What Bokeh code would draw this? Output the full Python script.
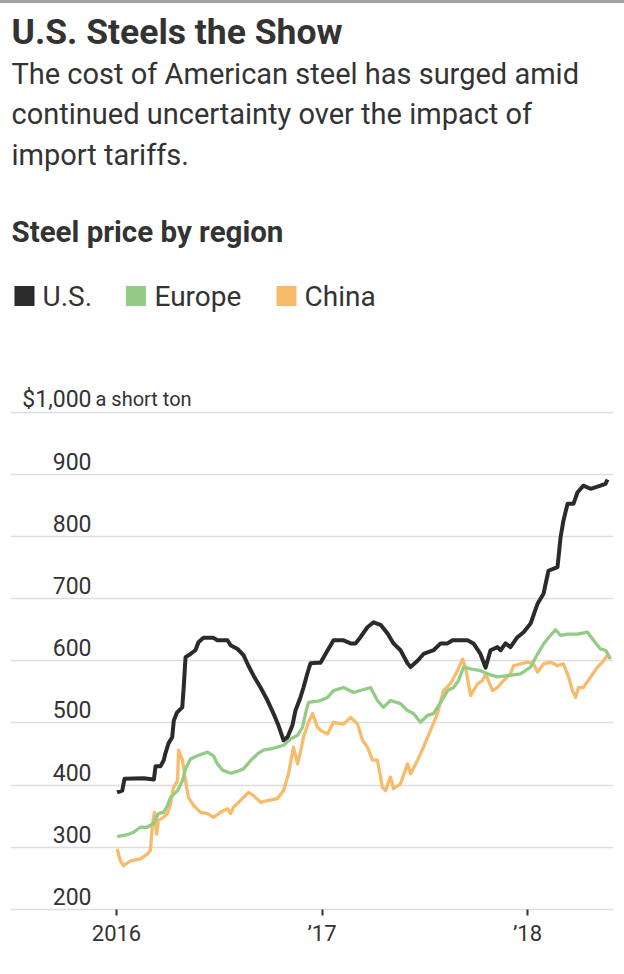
from bokeh.plotting import figure
from bokeh.layouts import column
from bokeh.models import Range1d, FixedTicker, Grid, Label, Div
from bokeh.core.properties import value
from bokeh.embed import file_html
from bokeh.resources import INLINE

# ---------------- data ----------------
us_t = [2016.003, 2016.028, 2016.039, 2016.131, 2016.182, 2016.190, 2016.214, 2016.230, 2016.238, 2016.253,
        2016.271, 2016.279, 2016.295, 2016.320, 2016.327, 2016.336, 2016.360, 2016.384, 2016.399, 2016.423,
        2016.472, 2016.491, 2016.540, 2016.555, 2016.589, 2016.618, 2016.642, 2016.667, 2016.701, 2016.735,
        2016.764, 2016.788, 2016.813, 2016.832, 2016.856, 2016.871, 2016.895, 2016.910, 2016.929, 2016.944,
        2016.978, 2016.993, 2017.017, 2017.056, 2017.105, 2017.139, 2017.163, 2017.187, 2017.221, 2017.251,
        2017.285, 2017.319, 2017.348, 2017.382, 2017.416, 2017.431, 2017.465, 2017.494, 2017.543, 2017.577,
        2017.611, 2017.635, 2017.708, 2017.737, 2017.771, 2017.796, 2017.820, 2017.854, 2017.869, 2017.893,
        2017.917, 2017.951, 2017.981, 2018.015, 2018.049, 2018.078, 2018.102, 2018.146, 2018.161, 2018.175,
        2018.195, 2018.224, 2018.243, 2018.272, 2018.307, 2018.355, 2018.380, 2018.389]
us_v = [388, 391, 410, 411, 409, 430, 430, 440, 451, 467,
        477, 504, 517, 525, 557, 606, 611, 617, 630, 637,
        637, 633, 633, 625, 619, 609, 592, 576, 557, 536,
        515, 496, 472, 477, 496, 520, 541, 557, 580, 596,
        597, 597, 611, 633, 633, 628, 628, 638, 654, 662,
        658, 644, 628, 617, 596, 590, 600, 611, 617, 628,
        628, 633, 633, 628, 611, 589, 617, 622, 617, 628,
        622, 638, 646, 660, 692, 708, 745, 751, 799, 826,
        853, 853, 871, 882, 877, 882, 885, 892]

eu_t = [2016.003, 2016.052, 2016.083, 2016.117, 2016.149, 2016.180, 2016.204, 2016.229, 2016.248, 2016.263,
        2016.297, 2016.321, 2016.336, 2016.360, 2016.394, 2016.443, 2016.472, 2016.491, 2016.516, 2016.555,
        2016.589, 2016.618, 2016.652, 2016.686, 2016.715, 2016.749, 2016.783, 2016.813, 2016.847, 2016.881,
        2016.905, 2016.920, 2016.934, 2016.978, 2016.993, 2017.027, 2017.056, 2017.105, 2017.153, 2017.236,
        2017.270, 2017.299, 2017.333, 2017.382, 2017.416, 2017.445, 2017.479, 2017.513, 2017.543, 2017.577,
        2017.611, 2017.640, 2017.664, 2017.689, 2017.723, 2017.771, 2017.805, 2017.854, 2017.903, 2017.966,
        2018.015, 2018.049, 2018.078, 2018.112, 2018.136, 2018.161, 2018.195, 2018.243, 2018.292, 2018.321,
        2018.355, 2018.380, 2018.404]
eu_v = [317, 320, 324, 332, 332, 338, 354, 356, 367, 380,
        391, 407, 426, 442, 447, 453, 447, 434, 424, 419,
        422, 426, 439, 450, 456, 458, 461, 464, 474, 480,
        493, 515, 533, 535, 536, 541, 552, 557, 549, 557,
        536, 525, 536, 531, 520, 515, 501, 512, 515, 533,
        552, 557, 568, 590, 587, 584, 579, 574, 576, 579,
        590, 611, 627, 641, 650, 641, 643, 643, 646, 633,
        619, 617, 603]

cn_t = [2016.003, 2016.019, 2016.034, 2016.068, 2016.117, 2016.151, 2016.165, 2016.175, 2016.185, 2016.195,
        2016.204, 2016.229, 2016.248, 2016.263, 2016.277, 2016.297, 2016.302, 2016.321, 2016.336, 2016.350,
        2016.375, 2016.409, 2016.443, 2016.472, 2016.506, 2016.540, 2016.555, 2016.569, 2016.603, 2016.642,
        2016.667, 2016.701, 2016.735, 2016.783, 2016.813, 2016.837, 2016.861, 2016.881, 2016.895, 2016.910,
        2016.934, 2016.954, 2016.978, 2016.993, 2017.027, 2017.056, 2017.105, 2017.139, 2017.173, 2017.197,
        2017.221, 2017.246, 2017.270, 2017.294, 2017.309, 2017.333, 2017.348, 2017.382, 2017.416, 2017.431,
        2017.465, 2017.494, 2017.528, 2017.562, 2017.591, 2017.625, 2017.659, 2017.684, 2017.698, 2017.723,
        2017.757, 2017.781, 2017.796, 2017.830, 2017.854, 2017.883, 2017.917, 2017.932, 2017.966, 2018.000,
        2018.029, 2018.049, 2018.078, 2018.112, 2018.146, 2018.175, 2018.200, 2018.219, 2018.234, 2018.248,
        2018.272, 2018.307, 2018.341, 2018.365, 2018.389, 2018.404]
cn_v = [297, 278, 270, 278, 281, 289, 295, 337, 356, 321,
        343, 348, 354, 370, 396, 407, 456, 440, 407, 380,
        367, 356, 354, 348, 356, 362, 354, 364, 375, 388,
        383, 372, 375, 378, 391, 418, 461, 434, 453, 477,
        501, 515, 493, 488, 482, 501, 498, 509, 498, 472,
        461, 440, 440, 396, 391, 413, 394, 402, 434, 418,
        440, 461, 488, 515, 552, 563, 584, 603, 590, 544,
        563, 568, 579, 552, 557, 568, 579, 592, 595, 598,
        595, 582, 595, 598, 592, 595, 574, 552, 541, 557,
        557, 574, 590, 598, 609, 603]

series_names = ["U.S.", "Europe", "China"]
y_ticks = [200, 300, 400, 500, 600, 700, 800, 900]
y_tick_labels = ["200", "300", "400", "500", "600", "700", "800", "900"]
top_tick = 1000
top_tick_label = "$1,000"
unit_label = "a short ton"
x_ticks = [2016, 2017, 2018]
x_tick_labels = ["2016", "\u201917", "\u201918"]

title_text = "U.S. Steels the Show"
subtitle_lines = ["The cost of American steel has surged amid",
                  "continued uncertainty over the impact of",
                  "import tariffs."]
header_text = "Steel price by region"

# ---------------- styling / layout ----------------
FONT = "Roboto"
TXT = "#333333"
C_US, C_EU, C_CN = "#2b2b2b", "#92cc86", "#f8bb6b"
GRID_C = "#dddddd"
BAR_C = "#a3a3a3"

W = 624
BAR_H = 3                                # grey rule at the top of the page
H = 967                                  # main figure height (below the rule)
BORDER_L, BORDER_R = 10, 11
FRAME_W = W - BORDER_L - BORDER_R        # 603
FRAME_BOTTOM_PX = 915                    # page y of the frame bottom (end of ticks)
FRAME_H = FRAME_BOTTOM_PX - BAR_H
BORDER_B = H - FRAME_H
PX_PER_YEAR = 205.5
PX_PER_UNIT = 0.621
X2016_PX = 116.0
Y200_PX = 908.7

x_start = 2016 - (X2016_PX - BORDER_L) / PX_PER_YEAR
x_end = x_start + FRAME_W / PX_PER_YEAR
y_start = 200 - (FRAME_BOTTOM_PX - Y200_PX) / PX_PER_UNIT
y_end = y_start + FRAME_H / PX_PER_UNIT
TICK_LEN = FRAME_BOTTOM_PX - Y200_PX


def fx(px):
    """page x pixel -> data x"""
    return x_start + (px - BORDER_L) / PX_PER_YEAR


def fy(py):
    """page y pixel -> data y"""
    return y_end - (py - BAR_H) / PX_PER_UNIT


bar = Div(text="", width=W, height=BAR_H, margin=(0, 0, 0, 0),
          styles={"background-color": BAR_C, "width": f"{W}px", "height": f"{BAR_H}px"})

p = figure(width=W, height=H, output_backend="svg", toolbar_location=None,
           x_range=Range1d(x_start, x_end), y_range=Range1d(y_start, y_end),
           y_axis_location=None, min_border_left=BORDER_L, min_border_right=BORDER_R,
           min_border_top=0, min_border_bottom=BORDER_B)
p.outline_line_color = None
p.background_fill_color = "white"
p.border_fill_color = "white"
p.grid.visible = False

grid = Grid(dimension=1, ticker=FixedTicker(ticks=y_ticks + [top_tick]),
            grid_line_color=GRID_C, grid_line_width=1.5)
p.add_layout(grid)

ax = p.xaxis[0]
ax.ticker = FixedTicker(ticks=x_ticks)
ax.major_label_overrides = {t: l for t, l in zip(x_ticks, x_tick_labels)}
ax.axis_line_color = None
ax.major_tick_line_color = TXT
ax.major_tick_line_width = 2
ax.major_tick_in = round(TICK_LEN)
ax.major_tick_out = 0
ax.minor_tick_line_color = None
ax.major_label_text_font = FONT
ax.major_label_text_font_size = "22px"
ax.major_label_text_color = TXT
ax.major_label_standoff = 5

# y tick labels (inside the plot, right aligned, above grid lines)
p.text(x=[fx(91)] * len(y_ticks), y=y_ticks, text=y_tick_labels,
       text_font=value(FONT), text_font_size="23px", text_color=TXT,
       text_align="right", text_baseline="middle", y_offset=-13)
p.text(x=[fx(91)], y=[top_tick], text=[top_tick_label],
       text_font=value(FONT), text_font_size="23px", text_color=TXT,
       text_align="right", text_baseline="middle", y_offset=-13)
p.text(x=[fx(95)], y=[top_tick], text=[unit_label],
       text_font=value(FONT), text_font_size="20px", text_color=TXT,
       text_align="left", text_baseline="middle", y_offset=-13)

# lines
p.line(cn_t, cn_v, line_color=C_CN, line_width=3.3, line_join="round")
p.line(eu_t, eu_v, line_color=C_EU, line_width=3.3, line_join="round")
p.line(us_t, us_v, line_color=C_US, line_width=4, line_join="round")


def add_label(px, py_center, text, size, bold=False):
    p.add_layout(Label(x=fx(px), y=fy(py_center), text=text, text_font=FONT,
                       text_font_size=size, text_color=TXT,
                       text_font_style="bold" if bold else "normal",
                       text_align="left", text_baseline="middle"))


add_label(11, 31.3, title_text, "35.5px", bold=True)
for i, line in enumerate(subtitle_lines):
    add_label(11, [73.3, 113.3, 154][i], line, "29px")
add_label(11, 231.2, header_text, "29.5px", bold=True)

# legend
legend_sq_x = [24, 135.5, 286]
legend_txt_x = [42, 154, 304]
legend_colors = [C_US, C_EU, C_CN]
p.scatter(x=[fx(v) for v in legend_sq_x], y=[fy(295.5)] * 3, marker="square",
          size=20, fill_color=legend_colors, line_color=None)
for tx, name in zip(legend_txt_x, series_names):
    add_label(tx, 295.5, name, "28px")

layout = column(bar, p, spacing=0)
open("out.html", "w").write(file_html(layout, INLINE))
